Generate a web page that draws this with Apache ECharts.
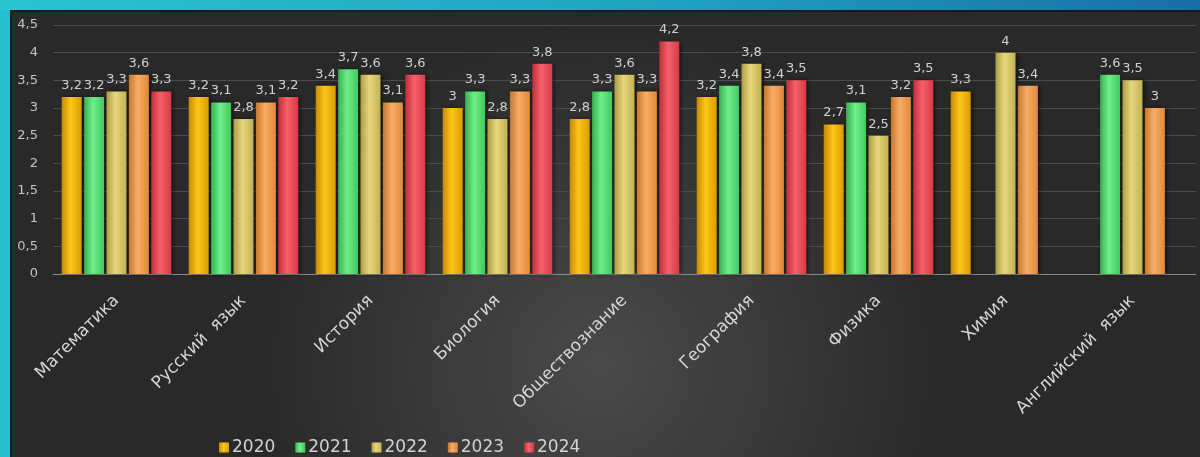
<!DOCTYPE html>
<html>
<head>
<meta charset="utf-8">
<script src="https://cdn.jsdelivr.net/npm/echarts@6/dist/echarts.min.js"></script>
<style>
html,body{margin:0;padding:0;background:#2a2a2a;}
#c{width:1200px;height:457px;}
</style>
</head>
<body>
<div id="c"></div>
<script>
const categories = ['Математика','Русский  язык','История','Биология','Обществознание','География','Физика','Химия','Английский  язык'];
const years = ['2020','2021','2022','2023','2024'];
const v2020 = [3.2, 3.2, 3.4, 3.0, 2.8, 3.2, 2.7, 3.3, null];
const v2021 = [3.2, 3.1, 3.7, 3.3, 3.3, 3.4, 3.1, null, 3.6];
const v2022 = [3.3, 2.8, 3.6, 2.8, 3.6, 3.8, 2.5, 4.0, 3.5];
const v2023 = [3.6, 3.1, 3.1, 3.3, 3.3, 3.4, 3.2, 3.4, 3.0];
const v2024 = [3.3, 3.2, 3.6, 3.8, 4.2, 3.5, 3.5, null, null];
const yTicks = {min: 0, max: 4.5, interval: 0.5};

const seriesValues = [v2020, v2021, v2022, v2023, v2024];
const baseColors = [
  ['#d99c00', '#ffc61a', '#c48a00'],
  ['#3fc95c', '#70ee8a', '#35b04f'],
  ['#c2b250', '#e6d67e', '#ad9d42'],
  ['#e08838', '#f8ad68', '#c9762c'],
  ['#d83a46', '#f6606b', '#c02f3a']
];
const fmt = v => String(v).replace('.', ',');

function grad(c) {
  return new echarts.graphic.LinearGradient(0, 0, 1, 0, [
    {offset: 0, color: c[2]},
    {offset: 0.45, color: c[1]},
    {offset: 1, color: c[0]}
  ]);
}

const chart = echarts.init(document.getElementById('c'));
chart.setOption({
  backgroundColor: new echarts.graphic.RadialGradient(0.5, 0.8, 0.75, [
    {offset: 0, color: '#4a4a4a'},
    {offset: 1, color: '#292929'}
  ]),
  animation: false,
  graphic: [
    {type: 'rect', left: 0, top: 0, shape: {width: 10, height: 457}, style: {fill: '#27bfcf'}, z: 10},
    {type: 'rect', left: 0, top: 0, shape: {width: 1200, height: 10},
      style: {fill: new echarts.graphic.LinearGradient(0, 0, 1, 0, [
        {offset: 0, color: '#2ac3cf'},
        {offset: 0.55, color: '#1fa3c0'},
        {offset: 1, color: '#1a6ea6'}
      ])}, z: 10},
    {type: 'rect', left: 10, top: 10, shape: {width: 1190, height: 2}, style: {fill: 'rgba(0,0,0,0.35)'}, z: 10},
    {type: 'rect', left: 10, top: 10, shape: {width: 2, height: 447}, style: {fill: 'rgba(0,0,0,0.35)'}, z: 10}
  ],
  grid: {left: 53, right: 4, top: 25, bottom: 183, containLabel: false},
  legend: {
    data: years,
    left: 214,
    top: 434,
    icon: 'rect',
    itemWidth: 10,
    itemHeight: 10,
    itemGap: 20,
    textStyle: {color: '#d2d2d2', fontSize: 17, fontFamily: 'DejaVu Sans', padding: [0, 0, 0, -2]}
  },
  xAxis: {
    type: 'category',
    data: categories,
    axisLine: {lineStyle: {color: '#8a8a8a', width: 1}},
    axisTick: {show: false},
    axisLabel: {
      rotate: 45,
      interval: 0,
      color: '#d6d6d6',
      fontSize: 17,
      fontFamily: 'DejaVu Sans',
      margin: 24
    }
  },
  yAxis: {
    type: 'value',
    min: yTicks.min,
    max: yTicks.max,
    interval: yTicks.interval,
    axisLine: {show: false},
    axisTick: {show: false},
    splitLine: {lineStyle: {color: '#4c4c4c', width: 1}},
    axisLabel: {
      color: '#c4c4c4',
      fontSize: 13,
      fontFamily: 'DejaVu Sans',
      margin: 15,
      formatter: fmt
    }
  },
  series: seriesValues.map((vals, i) => ({
    name: years[i],
    type: 'bar',
    data: vals.map(v => v === null ? '-' : v),
    barWidth: 20,
    barGap: '12%',
    itemStyle: {
      color: grad(baseColors[i]),
      shadowColor: 'rgba(0,0,0,0.55)',
      shadowBlur: 4,
      shadowOffsetX: 2,
      shadowOffsetY: 0
    },
    label: {
      show: true,
      position: 'top',
      distance: 5,
      color: '#d0d0d0',
      fontSize: 13,
      fontFamily: 'DejaVu Sans',
      formatter: p => fmt(p.value)
    }
  }))
});
</script>
</body>
</html>
